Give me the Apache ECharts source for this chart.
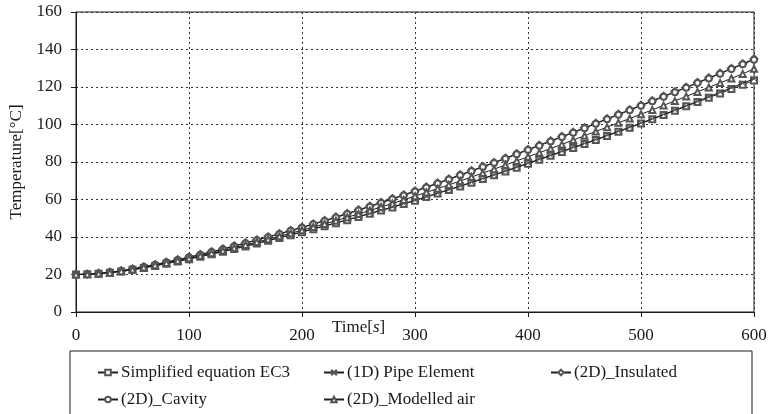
<!DOCTYPE html>
<html>
<head>
<meta charset="utf-8">
<script src="https://cdn.jsdelivr.net/npm/echarts@6/dist/echarts.min.js"></script>
<style>
  html, body { margin: 0; padding: 0; background: #fff; }
  #chart { width: 768px; height: 414px; }
</style>
</head>
<body>
<div id="chart"></div>
<script>
// time axis, one point every 10 s
const times = [0, 10, 20, 30, 40, 50, 60, 70, 80, 90, 100, 110, 120, 130, 140, 150, 160, 170, 180, 190,
  200, 210, 220, 230, 240, 250, 260, 270, 280, 290, 300, 310, 320, 330, 340, 350, 360, 370, 380, 390,
  400, 410, 420, 430, 440, 450, 460, 470, 480, 490, 500, 510, 520, 530, 540, 550, 560, 570, 580, 590, 600]

const simplifiedEC3 = [20.0, 20.1, 20.4, 20.9, 21.6, 22.5, 23.5, 24.6, 25.8, 27.0, 28.2, 29.5, 30.8, 32.2, 33.6, 35.0, 36.5, 38.0, 39.5, 41.0,
  42.6, 44.2, 45.8, 47.4, 49.0, 50.7, 52.4, 54.1, 55.8, 57.6, 59.4, 61.3, 63.2, 65.1, 67.0, 69.0, 71.0, 73.0, 75.0, 77.0,
  79.1, 81.2, 83.3, 85.4, 87.5, 89.6, 91.7, 93.9, 96.1, 98.3, 100.5, 102.8, 105.1, 107.4, 109.7, 112.0, 114.3, 116.6, 118.9, 121.2, 123.5]

const pipeElement1D = [20.0, 20.1, 20.4, 21.0, 21.7, 22.6, 23.6, 24.7, 25.9, 27.1, 28.4, 29.7, 31.0, 32.4, 33.8, 35.2, 36.7, 38.2, 39.7, 41.2,
  42.8, 44.4, 46.0, 47.6, 49.2, 50.9, 52.6, 54.3, 56.0, 57.8, 59.6, 61.5, 63.4, 65.3, 67.2, 69.2, 71.2, 73.2, 75.2, 77.3,
  79.4, 81.5, 83.6, 85.7, 87.8, 89.9, 92.0, 94.2, 96.4, 98.6, 100.8, 103.1, 105.4, 107.7, 110.0, 112.4, 114.8, 117.2, 119.6, 122.0, 124.4]

const insulated2D = [20.0, 20.2, 20.6, 21.2, 22.0, 23.0, 24.1, 25.3, 26.6, 27.9, 29.3, 30.7, 32.2, 33.7, 35.3, 36.9, 38.5, 40.1, 41.8, 43.5,
  45.2, 47.0, 48.8, 50.7, 52.6, 54.5, 56.5, 58.5, 60.5, 62.5, 64.6, 66.7, 68.8, 71.0, 73.2, 75.4, 77.6, 79.8, 82.1, 84.4,
  86.7, 89.0, 91.3, 93.6, 95.9, 98.3, 100.7, 103.1, 105.5, 107.9, 110.3, 112.7, 115.1, 117.5, 119.9, 122.4, 124.9, 127.4, 129.9, 132.4, 135.0]

const cavity2D = [20.0, 20.2, 20.6, 21.2, 21.9, 22.9, 24.0, 25.2, 26.5, 27.8, 29.2, 30.6, 32.0, 33.5, 35.1, 36.7, 38.3, 39.9, 41.6, 43.3,
  45.0, 46.8, 48.6, 50.4, 52.3, 54.2, 56.2, 58.2, 60.2, 62.2, 64.3, 66.4, 68.5, 70.7, 72.9, 75.1, 77.3, 79.5, 81.8, 84.1,
  86.4, 88.7, 91.0, 93.3, 95.6, 98.0, 100.4, 102.8, 105.2, 107.6, 110.0, 112.4, 114.8, 117.2, 119.6, 122.1, 124.6, 127.1, 129.6, 132.1, 134.6]

const modelledAir2D = [20.0, 20.1, 20.5, 21.0, 21.8, 22.7, 23.8, 25.0, 26.2, 27.4, 28.7, 30.0, 31.4, 32.8, 34.3, 35.8, 37.3, 38.8, 40.4, 42.0,
  43.6, 45.3, 47.0, 48.7, 50.5, 52.3, 54.1, 56.0, 57.9, 59.8, 61.8, 63.8, 65.8, 67.8, 69.9, 72.0, 74.1, 76.2, 78.4, 80.6,
  82.8, 85.0, 87.2, 89.4, 91.7, 94.0, 96.3, 98.6, 100.9, 103.2, 105.5, 107.8, 110.2, 112.6, 115.0, 117.4, 119.8, 122.2, 124.6, 127.0, 129.7]

const seriesNames = ['Simplified equation EC3', '(1D) Pipe Element', '(2D)_Insulated', '(2D)_Cavity', '(2D)_Modelled air']
const seriesValues = [simplifiedEC3, pipeElement1D, insulated2D, cavity2D, modelledAir2D]
const seriesSymbols = ['emptyRect', 'path://M0,0L10,10M10,0L0,10M0,5L10,5', 'emptyDiamond', 'emptyCircle', 'emptyTriangle']

const FONT = '"Liberation Serif", "DejaVu Serif", serif'
const INK = '#1a1a1a'
const MARK = '#555'

const chart = echarts.init(document.getElementById('chart'))

const series = seriesNames.map((name, i) => ({
  name: name,
  type: 'line',
  data: times.map((t, j) => [t, seriesValues[i][j]]),
  symbol: seriesSymbols[i],
  symbolSize: i === 2 ? 7 : 6,
  showAllSymbol: true,
  animation: false,
  lineStyle: { color: '#1e1e1e', width: 1 },
  // empty symbols stroke with color; the cross path needs an explicit border
  itemStyle: i === 1
    ? { color: 'none', borderColor: MARK, borderWidth: 1 }
    : { color: MARK },
  z: 2 + i
}))

const legendBase = {
  orient: 'vertical',
  itemGap: 10,
  itemWidth: 20,
  itemHeight: 7,
  textStyle: { fontFamily: FONT, fontSize: 17, color: INK, padding: [0, 0, 0, -2] },
  selectedMode: false
}

const option = {
  animation: false,
  grid: {
    left: 76,
    right: 14,
    top: 12,
    bottom: 102,
    outerBoundsMode: 'none',
    containLabel: false,
    show: true,
    borderColor: INK,
    borderWidth: 1
  },
  xAxis: {
    type: 'value',
    min: 0,
    max: 600,
    interval: 100,
    axisLine: { show: true, lineStyle: { color: INK } },
    axisTick: { show: true, length: 5, lineStyle: { color: INK } },
    axisLabel: { margin: 15, fontFamily: FONT, fontSize: 17, color: INK },
    splitLine: { show: true, lineStyle: { color: '#333', type: [2, 3], width: 1 } }
  },
  yAxis: {
    type: 'value',
    min: 0,
    max: 160,
    interval: 20,
    name: 'Temperature[°C]',
    nameLocation: 'middle',
    nameGap: 51,
    nameTextStyle: { fontFamily: FONT, fontSize: 17, color: INK },
    axisLine: { show: true, lineStyle: { color: INK } },
    axisTick: { show: true, length: 5, lineStyle: { color: INK } },
    axisLabel: { margin: 14, fontFamily: FONT, fontSize: 17, color: INK },
    splitLine: { show: true, lineStyle: { color: '#333', type: [2, 3], width: 1 } }
  },
  legend: [
    Object.assign({}, legendBase, { left: 92, top: 359, data: [seriesNames[0], seriesNames[3]] }),
    Object.assign({}, legendBase, { left: 318, top: 359, data: [seriesNames[1], seriesNames[4]] }),
    Object.assign({}, legendBase, { left: 545, top: 359, data: [seriesNames[2]] })
  ],
  graphic: [
    {
      type: 'rect',
      shape: { x: 70, y: 351, width: 682, height: 80 },
      style: { fill: 'none', stroke: INK, lineWidth: 1 },
      z: -1
    },
    {
      type: 'text',
      left: 332,
      top: 319,
      style: {
        text: 'Time[{i|s}]',
        font: '17px ' + FONT,
        fill: INK,
        rich: { i: { fontStyle: 'italic', fontFamily: FONT, fontSize: 17 } }
      }
    }
  ],
  series: series
}

chart.setOption(option)
</script>
</body>
</html>
